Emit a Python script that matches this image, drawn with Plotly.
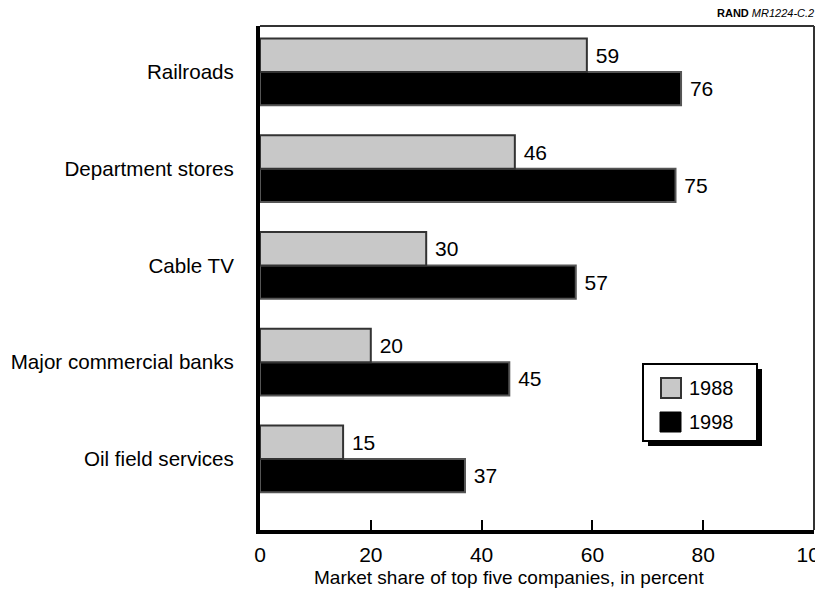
import plotly.graph_objects as go

categories = ["Railroads", "Department stores", "Cable TV", "Major commercial banks", "Oil field services"]
share_1988 = [59, 46, 30, 20, 15]
share_1998 = [76, 75, 57, 45, 37]
x_ticks = [0, 20, 40, 60, 80, 100]
series_names = ["1988", "1998"]

# page has an 8px body margin, so the figure is drawn 8px smaller and offset
OFF = 8
W, H = 823 - OFF, 592 - OFF
L, R, T, B = 260 - OFF, 9, 26 - OFF, 62
pw, ph = W - L - R, H - T - B

def px(x):  # page pixel x -> paper
    return (x - OFF - L) / pw

def py(y):  # page pixel y -> paper
    return (H - B - (y - OFF)) / ph

ypos = list(range(len(categories) - 1, -1, -1))
FONT = "Liberation Sans, Arial, Helvetica, sans-serif"
NB = "\u00a0"

fig = go.Figure()
# 1998 first so that in horizontal grouping the 1988 bar sits on top
fig.add_trace(go.Bar(
    y=ypos, x=share_1998, orientation="h", name=series_names[1],
    marker=dict(color="black", line=dict(color="#555555", width=2)),
    text=[NB + str(v) for v in share_1998], textposition="outside",
    textfont=dict(size=21, color="black", family=FONT), cliponaxis=False,
))
fig.add_trace(go.Bar(
    y=ypos, x=share_1988, orientation="h", name=series_names[0],
    marker=dict(color="#c8c8c8", line=dict(color="#333333", width=2)),
    text=[NB + str(v) for v in share_1988], textposition="outside",
    textfont=dict(size=21, color="black", family=FONT), cliponaxis=False,
))

shapes = [
    dict(type="line", xref="paper", yref="paper", x0=0, x1=1, y0=1, y1=1,
         line=dict(color="#333333", width=2)),
    dict(type="line", xref="paper", yref="paper", x0=1, x1=1, y0=0, y1=1,
         line=dict(color="#333333", width=2)),
    dict(type="rect", xref="paper", yref="paper", x0=px(648), x1=px(762), y0=py(446), y1=py(369),
         fillcolor="black", line=dict(width=0)),
    dict(type="rect", xref="paper", yref="paper", x0=px(643), x1=px(757), y0=py(441), y1=py(364),
         fillcolor="white", line=dict(color="black", width=2)),
    dict(type="rect", xref="paper", yref="paper", x0=px(661), x1=px(681), y0=py(398), y1=py(378),
         fillcolor="#c8c8c8", line=dict(color="#333333", width=2)),
    dict(type="rect", xref="paper", yref="paper", x0=px(660), x1=px(681), y0=py(432), y1=py(412),
         fillcolor="black", line=dict(color="black", width=1)),
]

annotations = [
    dict(text="<b>RAND</b> <i>MR1224-C.2</i>", xref="paper", yref="paper",
         x=px(816), y=py(8), xanchor="right", yanchor="top", showarrow=False,
         font=dict(size=11, family=FONT, color="black"), yshift=3),
    dict(text=series_names[0], xref="paper", yref="paper", x=px(687), y=py(388),
         xanchor="left", yanchor="middle", showarrow=False,
         font=dict(size=20, family=FONT, color="black")),
    dict(text=series_names[1], xref="paper", yref="paper", x=px(687), y=py(422),
         xanchor="left", yanchor="middle", showarrow=False,
         font=dict(size=20, family=FONT, color="black")),
    dict(text="Market share of top five companies, in percent", xref="paper", yref="paper",
         x=px(509), y=py(577), xanchor="center", yanchor="middle", showarrow=False,
         font=dict(size=19, family=FONT, color="black")),
]

fig.update_layout(
    width=W, height=H,
    margin=dict(l=L, r=R, t=T, b=B, pad=0, autoexpand=False),
    paper_bgcolor="white", plot_bgcolor="white",
    barmode="group", bargap=0.31, bargroupgap=0,
    showlegend=False,
    font=dict(family=FONT, size=21, color="black"),
    shapes=shapes, annotations=annotations,
    xaxis=dict(range=[0, 100], tickvals=x_ticks, ticktext=[str(v) for v in x_ticks],
               ticks="inside", ticklen=10, tickwidth=1.5, tickcolor="black",
               showgrid=False, zeroline=False, showline=True, linewidth=4, linecolor="black",
               tickfont=dict(size=21, family=FONT, color="black"), ticklabelstandoff=3,
               ticklabeloverflow="allow", automargin=False),
    yaxis=dict(range=[-0.734, 4.475], tickvals=ypos, ticktext=categories,
               ticks="", showgrid=False, zeroline=False, showline=True, linewidth=4,
               linecolor="black", tickfont=dict(size=20.6, family=FONT, color="black"),
               ticklabelstandoff=18, automargin=False),
)

fig.write_html("out.html")
